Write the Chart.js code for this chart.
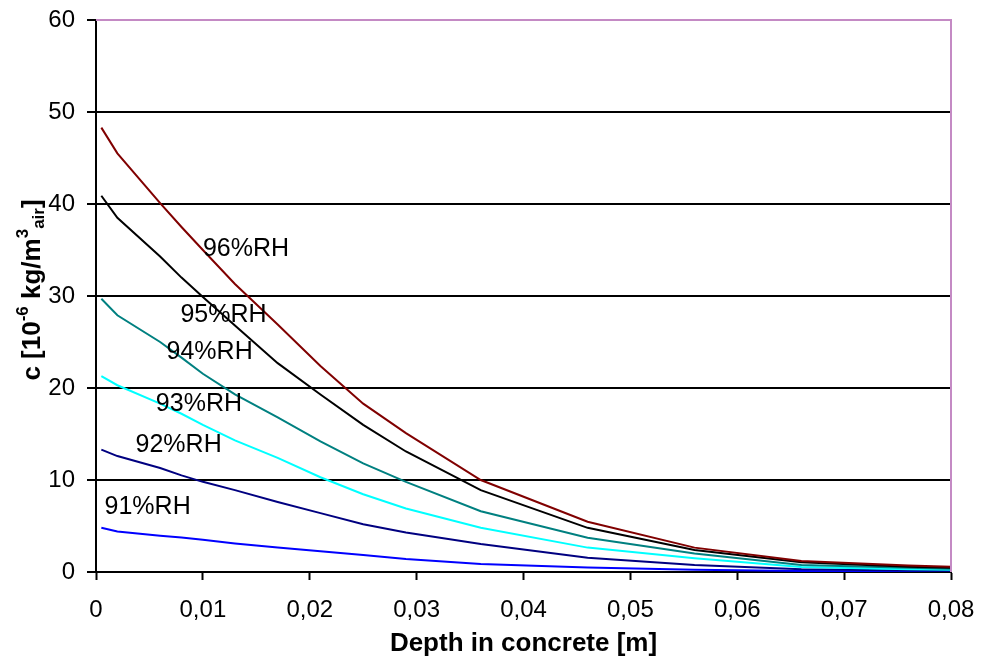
<!DOCTYPE html>
<html>
<head>
<meta charset="utf-8">
<script src="https://cdn.jsdelivr.net/npm/chart.js@4/dist/chart.umd.min.js"></script>
<style>
  html, body { margin: 0; padding: 0; background: #fff; }
  #wrap { width: 984px; height: 664px; }
</style>
</head>
<body>
<div id="wrap"><canvas id="c" width="984" height="664"></canvas></div>
<script>
// depth in concrete [m]
const depth = [0.0005, 0.002, 0.006, 0.008, 0.010, 0.013, 0.017, 0.021, 0.025, 0.029, 0.036, 0.046, 0.056, 0.066, 0.076, 0.080];

// c [10^-6 kg/m3 air] per relative humidity
const rh96 = [48.3, 45.5, 40.1, 37.5, 35.0, 31.3, 26.9, 22.4, 18.3, 15.1, 10.0, 5.47, 2.65, 1.2, 0.7, 0.58];
const rh95 = [40.9, 38.5, 34.3, 32.0, 29.9, 26.8, 22.7, 19.3, 16.0, 13.1, 8.9, 4.8, 2.4, 1.05, 0.58, 0.45];
const rh94 = [29.7, 27.9, 25.0, 23.3, 21.55, 19.3, 16.8, 14.2, 11.8, 9.8, 6.6, 3.73, 2.0, 0.76, 0.45, 0.35];
const rh93 = [21.3, 20.3, 18.3, 17.2, 16.0, 14.3, 12.4, 10.3, 8.45, 6.9, 4.8, 2.65, 1.5, 0.55, 0.3, 0.25];
const rh92 = [13.3, 12.6, 11.3, 10.5, 9.8, 8.9, 7.6, 6.4, 5.2, 4.3, 3.04, 1.55, 0.75, 0.3, 0.15, 0.1];
const rh91 = [4.8, 4.4, 3.95, 3.75, 3.5, 3.1, 2.65, 2.25, 1.85, 1.4, 0.87, 0.5, 0.25, 0.12, 0.06, 0.05];

const seriesNames = ["96%RH", "95%RH", "94%RH", "93%RH", "92%RH", "91%RH"];
const seriesValues = [rh96, rh95, rh94, rh93, rh92, rh91];
const seriesColors = ["#800000", "#000000", "#008080", "#00FFFF", "#000080", "#0000FF"];

// where the curve names sit, in data units (left edge / vertical middle of text)
const labelX = [0.0100, 0.0079, 0.0066, 0.0056, 0.0037, 0.0008];
const labelY = [35.1, 27.9, 23.9, 18.2, 13.8, 7.0];

const FONT = "Arial, 'Liberation Sans', sans-serif";

const datasets = seriesValues.map((vals, i) => ({
  label: seriesNames[i],
  data: depth.map((d, k) => ({ x: d, y: vals[k] })),
  borderColor: seriesColors[i],
  backgroundColor: seriesColors[i],
  borderWidth: 2,
  pointRadius: 0,
  tension: 0,
  fill: false
}));

// curve names + y axis title (needs super/subscripts) + plot frame
const extras = {
  id: "extras",
  afterDatasetsDraw(chart) {
    const { ctx, chartArea: a, scales } = chart;
    ctx.save();

    // pink frame on top / right
    ctx.strokeStyle = "#C48AC4";
    ctx.lineWidth = 2;
    ctx.beginPath();
    ctx.moveTo(a.left, a.top);
    ctx.lineTo(a.right, a.top);
    ctx.lineTo(a.right, a.bottom);
    ctx.stroke();

    // curve labels
    ctx.fillStyle = "#000";
    ctx.font = "25px " + FONT;
    ctx.textAlign = "left";
    ctx.textBaseline = "middle";
    seriesNames.forEach((name, i) => {
      ctx.fillText(name, scales.x.getPixelForValue(labelX[i]), scales.y.getPixelForValue(labelY[i]));
    });

    // y axis title, rotated, with superscript / subscript parts
    const parts = [
      { t: "c [10", s: 26, dy: 0 },
      { t: "-6", s: 17, dy: -10 },
      { t: " kg/m", s: 26, dy: 0 },
      { t: "3", s: 17, dy: -10 },
      { t: "air", s: 17, dy: 6 },
      { t: "]", s: 26, dy: 0 }
    ];
    let total = 0;
    parts.forEach(p => { ctx.font = "bold " + p.s + "px " + FONT; p.w = ctx.measureText(p.t).width; total += p.w; });
    ctx.translate(33, (a.top + a.bottom) / 2 - 6);
    ctx.rotate(-Math.PI / 2);
    ctx.textBaseline = "middle";
    let x = -total / 2;
    parts.forEach(p => {
      ctx.font = "bold " + p.s + "px " + FONT;
      ctx.fillText(p.t, x, p.dy);
      x += p.w;
    });
    ctx.restore();
  }
};

new Chart(document.getElementById("c").getContext("2d"), {
  type: "line",
  data: { datasets },
  plugins: [extras],
  options: {
    responsive: false,
    animation: false,
    layout: { padding: { left: 0, top: 20, right: 33, bottom: 0 } },
    plugins: {
      legend: { display: false },
      tooltip: { enabled: false },
      title: { display: false }
    },
    scales: {
      x: {
        type: "linear",
        min: 0,
        max: 0.08,
        afterFit(s) { s.height = 92; s.paddingLeft = 0; s.paddingRight = 0; },
        afterBuildTicks(s) {
          s.ticks = [0, 1, 2, 3, 4, 5, 6, 7, 8].map(v => ({ value: v / 100 }));
        },
        ticks: {
          color: "#000",
          padding: 16,
          maxRotation: 0,
          autoSkip: false,
          font: { family: FONT, size: 24 },
          callback: v => (v === 0 ? "0" : v.toFixed(2).replace(".", ","))
        },
        grid: { drawOnChartArea: false, drawTicks: true, tickLength: 8, tickColor: "#000", tickWidth: 2 },
        border: { display: true, color: "#000", width: 2 },
        title: {
          display: true,
          text: "Depth in concrete [m]",
          color: "#000",
          font: { family: FONT, size: 26, weight: "bold" },
          padding: { top: 0, bottom: 5 }
        }
      },
      y: {
        min: 0,
        max: 60,
        afterFit(s) { s.width = 96; s.paddingTop = 0; s.paddingBottom = 0; },
        ticks: {
          stepSize: 10,
          color: "#000",
          padding: 12,
          font: { family: FONT, size: 24 }
        },
        grid: { color: "#000", lineWidth: 2, drawTicks: true, tickLength: 9, tickColor: "#000", tickWidth: 2 },
        border: { display: true, color: "#000", width: 2 }
      }
    }
  }
});
</script>
</body>
</html>
